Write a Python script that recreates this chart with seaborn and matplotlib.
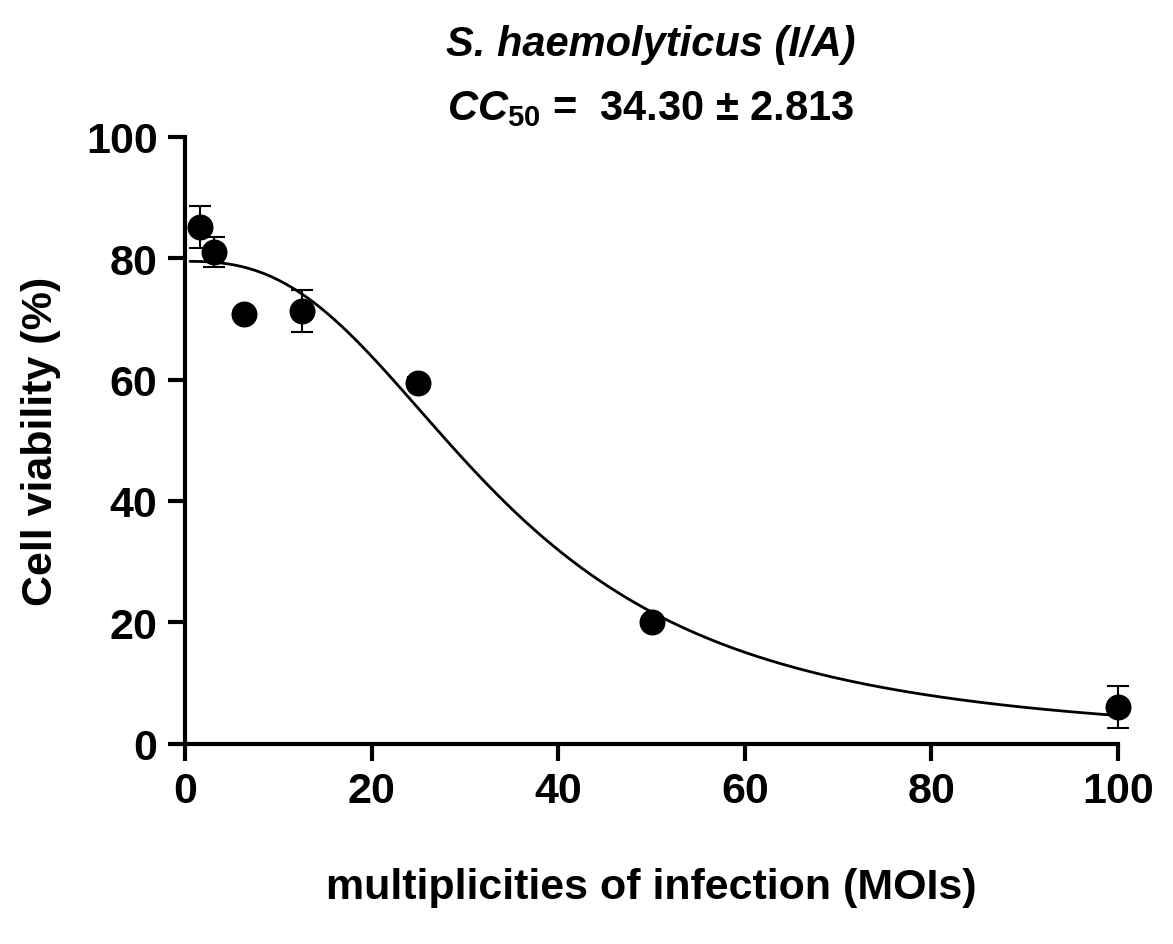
import numpy as np
import pandas as pd
import seaborn as sns
import matplotlib.pyplot as plt

# measured points
moi = [1.5625, 3.125, 6.25, 12.5, 25, 50, 100]
viability = [85.2, 81.0, 70.8, 71.3, 59.5, 20.0, 6.0]
sem = [3.5, 2.5, 0.8, 3.5, 1.0, 0.8, 3.5]

# fitted dose-response parameters
fit_top = 79.5
fit_bottom = 0.0
fit_cc50 = 34.30
fit_hill = 2.6

sns.set_theme(style="ticks")
plt.rcParams["font.family"] = ["Liberation Sans", "DejaVu Sans"]
plt.rcParams["mathtext.fontset"] = "custom"
plt.rcParams["mathtext.it"] = "Liberation Sans:italic:bold"
plt.rcParams["mathtext.rm"] = "Liberation Sans:bold"
plt.rcParams["text.color"] = "black"
plt.rcParams["axes.labelcolor"] = "black"
plt.rcParams["xtick.color"] = "black"
plt.rcParams["ytick.color"] = "black"

df = pd.DataFrame({"moi": moi, "viability": viability})
xs = np.linspace(0.5, 100, 400)
curve = pd.DataFrame({"moi": xs,
                      "viability": fit_bottom + (fit_top - fit_bottom) / (1 + (xs / fit_cc50) ** fit_hill)})

fig = plt.figure(figsize=(11.73, 9.45), dpi=100)
ax = fig.add_axes([0.158, 0.212, 0.795, 0.642])
sns.lineplot(data=curve, x="moi", y="viability", color="black", lw=2, ax=ax)
ax.errorbar(moi, viability, yerr=sem, fmt="none", ecolor="black", elinewidth=1.5,
            capsize=8, capthick=1.5, clip_on=False, zorder=3)
sns.scatterplot(data=df, x="moi", y="viability", color="black", s=300, edgecolor="black",
                ax=ax, clip_on=False, zorder=4)

ax.set_xlim(0, 100)
ax.set_ylim(0, 100)
ax.set_xticks(range(0, 101, 20))
ax.set_yticks(range(0, 101, 20))
sns.despine(ax=ax)
for s in ["left", "bottom"]:
    ax.spines[s].set_linewidth(3)
    ax.spines[s].set_color("black")
ax.tick_params(width=3, length=12, labelsize=31, pad=8)
for t in ax.get_xticklabels() + ax.get_yticklabels():
    t.set_fontweight("bold")
ax.set_xlabel("multiplicities of infection (MOIs)", fontsize=31, fontweight="bold", labelpad=40)
ax.set_ylabel("Cell viability (%)", fontsize=31, fontweight="bold", labelpad=18)

fig.text(0.555, 0.952, "S. haemolyticus (I/A)", fontsize=30, fontweight="bold",
         style="italic", ha="center", va="center")
fig.text(0.555, 0.885, r"$CC_{50}$ =  34.30 ± 2.813", fontsize=30, fontweight="bold",
         ha="center", va="center")

fig.savefig("out.png", dpi=100)
